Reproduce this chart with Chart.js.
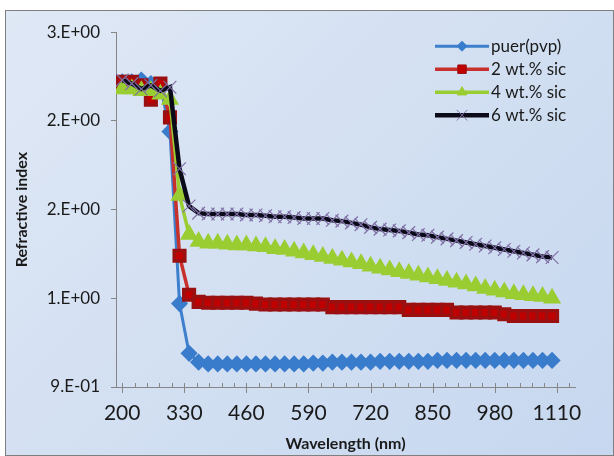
<!DOCTYPE html>
<html>
<head>
<meta charset="utf-8">
<script src="https://cdn.jsdelivr.net/npm/chart.js@4"></script>
<style>
  html, body { margin: 0; padding: 0; background: #fff; }
  #wrap {
    position: absolute; left: 5px; top: 10px;
    width: 607px; height: 444px;
    border: 1px solid #7f7f7f;
    background: linear-gradient(135deg, #dfe8f5 0%, #c6d7ef 100%);
  }
  canvas { display: block; }
</style>
</head>
<body>
<div id="wrap"><canvas id="chart" width="607" height="444"></canvas></div>
<script>
// wavelength (nm)
const wavelength = [200, 220, 240, 260, 280, 300, 320, 340, 360, 380, 400, 420, 440, 460, 480, 500,
  520, 540, 560, 580, 600, 620, 640, 660, 680, 700, 720, 740, 760, 780, 800, 820, 840, 860, 880, 900,
  920, 940, 960, 980, 1000, 1020, 1040, 1060, 1080, 1100];

// refractive index
const purePvp = [2.62, 2.62, 2.63, 2.61, 2.60, 2.34, 1.37, 1.09, 1.04, 1.03, 1.03, 1.03, 1.03, 1.03, 1.03, 1.03,
  1.03, 1.03, 1.03, 1.03, 1.035, 1.035, 1.04, 1.04, 1.04, 1.04, 1.04, 1.045, 1.045, 1.045, 1.045, 1.045, 1.045, 1.05, 1.05, 1.05,
  1.05, 1.05, 1.05, 1.05, 1.05, 1.05, 1.05, 1.05, 1.05, 1.05];
const sic2 = [2.62, 2.62, 2.60, 2.52, 2.61, 2.42, 1.64, 1.42, 1.38, 1.375, 1.375, 1.375, 1.375, 1.375, 1.37, 1.365,
  1.365, 1.365, 1.365, 1.365, 1.365, 1.365, 1.35, 1.35, 1.35, 1.35, 1.35, 1.35, 1.35, 1.35, 1.335, 1.335, 1.335, 1.335, 1.335, 1.32,
  1.32, 1.32, 1.32, 1.32, 1.31, 1.30, 1.30, 1.30, 1.30, 1.30];
const sic4 = [2.58, 2.58, 2.57, 2.57, 2.55, 2.52, 1.98, 1.76, 1.72, 1.71, 1.71, 1.705, 1.70, 1.70, 1.695, 1.69,
  1.68, 1.675, 1.665, 1.655, 1.645, 1.635, 1.625, 1.615, 1.605, 1.595, 1.58, 1.57, 1.56, 1.55, 1.54, 1.53, 1.52, 1.51, 1.50, 1.49,
  1.48, 1.47, 1.455, 1.445, 1.435, 1.425, 1.42, 1.415, 1.41, 1.40];
const sic6 = [2.63, 2.61, 2.58, 2.60, 2.57, 2.59, 2.13, 1.92, 1.88, 1.875, 1.875, 1.875, 1.875, 1.87, 1.87, 1.865,
  1.86, 1.86, 1.855, 1.85, 1.85, 1.85, 1.84, 1.835, 1.825, 1.815, 1.80, 1.79, 1.785, 1.78, 1.77, 1.76, 1.755, 1.745, 1.735, 1.725,
  1.715, 1.705, 1.695, 1.685, 1.675, 1.665, 1.655, 1.645, 1.635, 1.63];

const seriesNames = ['puer(pvp)', '2 wt.% sic', '4 wt.% sic', '6 wt.% sic'];
const yTicks = [0.9, 1.4, 1.9, 2.4, 2.9];
const xLabelTicks = [200, 330, 460, 590, 720, 850, 980, 1110];

const pts = (ys) => ys.map((y, i) => ({ x: wavelength[i], y: y }));

// Excel style "0.E+00"
function sci(v) {
  const e = Math.floor(Math.log10(v) + 1e-9);
  let m = Math.round(v / Math.pow(10, e));
  return m + '.E' + (e < 0 ? '-' : '+') + String(Math.abs(e)).padStart(2, '0');
}

const FONT = 'Lato, "Open Sans", sans-serif';

// minor / major tick marks on the wavelength axis
const xTickPlugin = {
  id: 'xTicks',
  afterDraw(chart) {
    const sx = chart.scales.x, ctx = chart.ctx;
    const y0 = chart.chartArea.bottom;
    ctx.save();
    ctx.strokeStyle = '#868686';
    ctx.lineWidth = 1;
    sx.ticks.forEach(t => {
      const px = Math.round(sx.getPixelForValue(t.value)) + 0.5;
      const major = xLabelTicks.includes(t.value);
      ctx.beginPath();
      ctx.moveTo(px, y0 - 4);
      ctx.lineTo(px, major ? y0 + 6 : y0);
      ctx.stroke();
    });
    ctx.restore();
  }
};

// legend drawn inside the plot, top right
const legendPlugin = {
  id: 'insideLegend',
  afterDraw(chart) {
    const ctx = chart.ctx, ca = chart.chartArea;
    const x0 = ca.right - 140, rowH = 23, top = ca.top + 14;
    ctx.save();
    chart.data.datasets.forEach((ds, i) => {
      const y = top + i * rowH;
      ctx.strokeStyle = ds.borderColor;
      ctx.lineWidth = ds.borderWidth;
      ctx.beginPath();
      ctx.moveTo(x0, y);
      ctx.lineTo(x0 + 54, y);
      ctx.stroke();
      ctx.fillStyle = ds.pointBackgroundColor;
      ctx.strokeStyle = ds.pointBorderColor;
      ctx.lineWidth = 1;
      Chart.helpers.drawPoint(ctx, { pointStyle: ds.pointStyle, radius: ds.pointRadius - 1.5, rotation: 0, borderWidth: 1 }, x0 + 27, y);
      ctx.fillStyle = '#1a1a1a';
      ctx.font = '17px ' + FONT;
      ctx.textBaseline = 'middle';
      ctx.fillText(ds.label, x0 + 56, y);
    });
    ctx.restore();
  }
};

new Chart(document.getElementById('chart'), {
  type: 'line',
  data: {
    datasets: [
      {
        label: seriesNames[0], data: pts(purePvp),
        borderColor: '#3d7fcc', borderWidth: 3,
        pointStyle: 'rectRot', pointRadius: 6.5,
        pointBackgroundColor: '#3a7ccc', pointBorderColor: '#3a7ccc',
        order: 4
      },
      {
        label: seriesNames[1], data: pts(sic2),
        borderColor: '#c8302c', borderWidth: 3.5,
        pointStyle: 'rect', pointRadius: 7.5,
        pointBackgroundColor: '#c00000', pointBorderColor: '#9a1010',
        order: 3
      },
      {
        label: seriesNames[2], data: pts(sic4),
        borderColor: '#9acd32', borderWidth: 3.5,
        pointStyle: 'triangle', pointRadius: 7,
        pointBackgroundColor: '#9acd32', pointBorderColor: '#9acd32',
        order: 2
      },
      {
        label: seriesNames[3], data: pts(sic6),
        borderColor: '#0a0a18', borderWidth: 4.5,
        pointStyle: 'crossRot', pointRadius: 9,
        pointBackgroundColor: '#8070a6', pointBorderColor: '#8070a6', pointBorderWidth: 1.2,
        order: 1
      }
    ]
  },
  options: {
    responsive: false,
    animation: false,
    layout: { padding: { top: 18, right: 38, left: 0, bottom: 0 } },
    plugins: { legend: { display: false }, tooltip: { enabled: false } },
    elements: { line: { tension: 0 }, point: { borderWidth: 1 } },
    scales: {
      x: {
        type: 'linear', min: 187, max: 1148,
        afterBuildTicks: (s) => {
          const t = [];
          for (let v = 200; v <= 1140; v += 26) t.push({ value: v });
          s.ticks = t;
        },
        afterFit: (s) => { s.height = 68; },
        border: { color: '#868686', width: 1 },
        grid: { drawOnChartArea: false, drawTicks: false },
        ticks: {
          autoSkip: false, maxRotation: 0, padding: 14,
          color: '#1a1a1a', font: { family: FONT, size: 21 },
          callback: (v) => xLabelTicks.includes(v) ? String(v) : ''
        },
        title: {
          display: true, text: 'Wavelength (nm)', color: '#1a1a1a',
          font: { family: FONT, size: 16, weight: 'bold' }, padding: { top: 0, bottom: 2 }
        }
      },
      y: {
        min: 0.9, max: 2.9,
        afterBuildTicks: (s) => { s.ticks = yTicks.map(v => ({ value: v })); },
        afterFit: (s) => { s.width = 110; },
        border: { color: '#868686', width: 1 },
        grid: { drawOnChartArea: false, drawTicks: true, tickLength: 5, color: '#868686' },
        ticks: {
          padding: 11, color: '#1a1a1a', font: { family: FONT, size: 17 },
          callback: (v) => sci(v)
        },
        title: {
          display: true, text: 'Refractive index', color: '#1a1a1a',
          font: { family: FONT, size: 16, weight: 'bold' }, padding: { top: 6, bottom: 0 }
        }
      }
    }
  },
  plugins: [xTickPlugin, legendPlugin]
});
</script>
</body>
</html>
